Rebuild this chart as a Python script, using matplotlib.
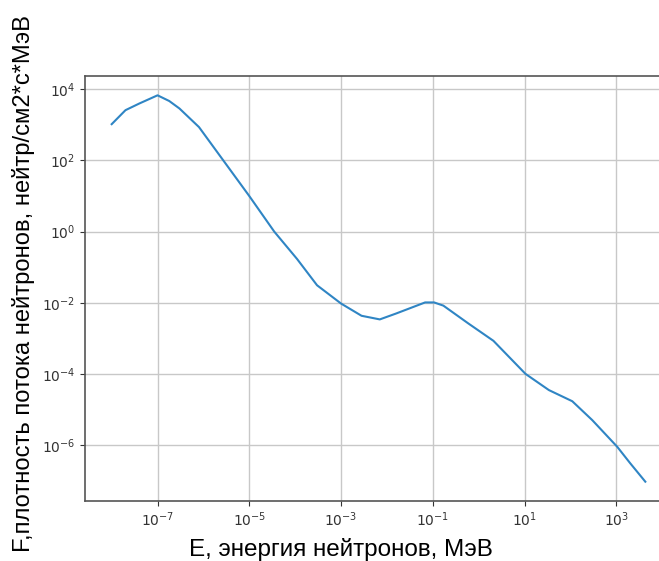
import matplotlib
matplotlib.use("Agg")
import matplotlib.pyplot as plt

# энергия нейтронов, МэВ
energy = [1e-8, 2e-8, 4e-8, 1e-7, 1.8e-7, 3e-7, 8e-7, 1e-5, 3.5e-5, 1.1e-4,
          3e-4, 1e-3, 2.8e-3, 7e-3, 0.016, 0.068, 0.107, 0.17, 0.6, 2.1,
          10.5, 34, 110, 300, 1050, 2000, 4300]
# плотность потока нейтронов, нейтр/см2*с*МэВ
flux = [1050, 2600, 4000, 6800, 4700, 2900, 870, 10, 1.0, 0.17,
        0.031, 0.0095, 0.0043, 0.0034, 0.005, 0.0102, 0.0102, 0.0083, 0.0026, 8.5e-4,
        1e-4, 3.5e-5, 1.7e-5, 5e-6, 8.9e-7, 3.1e-7, 9.3e-8]

fig = plt.figure(figsize=(6.59, 5.61), dpi=100)
ax = fig.add_axes([85 / 659, 60 / 561, 587 / 659, 425 / 561])
ax.plot(energy, flux, color='#2f85c4')
ax.set_xscale('log')
ax.set_yscale('log')
ax.grid(True, color='#c8c8c8', linewidth=1.0)
for s in ax.spines.values():
    s.set_color('#555555')
    s.set_linewidth(1.2)
ax.tick_params(colors='#333333')

fig.text(341 / 659, 5.3 / 561, 'E, энергия нейтронов, МэВ', ha='center', va='baseline',
         family='Liberation Sans', fontsize=17.5)
fig.text(24 / 659, 1 - 283.5 / 561, 'F,плотность потока нейтронов, нейтр/см2*с*МэВ',
         rotation=90, ha='center', va='center', family='Liberation Sans', fontsize=17.1)

fig.savefig('out.png', dpi=100)
